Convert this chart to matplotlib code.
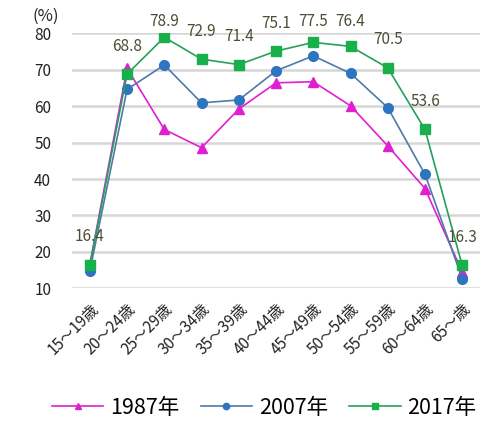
import matplotlib
matplotlib.use('Agg')
import matplotlib.pyplot as plt

plt.rcParams['font.family'] = ['Noto Sans CJK JP', 'DejaVu Sans']

# 年齢階級
categories = ['15～19歳', '20～24歳', '25～29歳', '30～34歳', '35～39歳', '40～44歳',
              '45～49歳', '50～54歳', '55～59歳', '60～64歳', '65～歳']
# 労働力率 (%)
v1987 = [16.6, 70.4, 53.6, 48.6, 59.2, 66.4, 66.7, 60.1, 49.1, 37.4, 14.5]
v2007 = [14.8, 64.6, 71.3, 60.9, 61.7, 69.7, 73.8, 69.0, 59.6, 41.3, 12.7]
v2017 = [16.4, 68.8, 78.9, 72.9, 71.4, 75.1, 77.5, 76.4, 70.5, 53.6, 16.3]
yticks = [10, 20, 30, 40, 50, 60, 70, 80]

x = list(range(len(categories)))

fig = plt.figure(figsize=(4.83, 4.21), dpi=100)
ax = fig.add_axes([0.149, 0.315, 0.845, 0.606])

ax.plot(x, v1987, color='#e020d0', marker='^', markersize=6.5, linewidth=1.2, label='1987年')
ax.plot(x, v2007, color='#4f79a8', marker='o', markersize=7, linewidth=1.2,
        markerfacecolor='#2e75c0', markeredgecolor='#2e75c0', label='2007年')
ax.plot(x, v2017, color='#25a05a', marker='s', markersize=6.5, linewidth=1.2,
        markerfacecolor='#17b04a', markeredgecolor='#17b04a', label='2017年')

# 2017年の値ラベル
for xi, v in zip(x, v2017):
    ax.text(xi, min(v + 7.7, 83.1), f'{v:.1f}', ha='center', va='center',
            fontsize=11, color='#4d4d36', clip_on=False)

ax.set_xlim(-0.48, 10.48)
ax.set_ylim(10, 80)
ax.set_yticks(yticks)
ax.set_xticks(x)
ax.set_xticklabels(categories, rotation=45, ha='right', rotation_mode='anchor', fontsize=11)
ax.tick_params(axis='y', labelsize=11, length=0, pad=15, labelcolor='#222222')
ax.tick_params(axis='x', length=0, pad=9, labelcolor='#222222')
ax.grid(axis='y', color='#d6d6d6', linewidth=1.8)
ax.set_axisbelow(True)
for s in ax.spines.values():
    s.set_visible(False)

fig.text(0.068, 0.962, '(%)', fontsize=12, ha='left', va='center', color='#222222')

fig.legend(loc='center', bbox_to_anchor=(0.547, 0.032), ncol=3, frameon=False,
           fontsize=15.5, handlelength=2.4, columnspacing=1.0, handletextpad=0.3,
           markerscale=0.65)

fig.savefig('out.png', dpi=100, facecolor='white')
